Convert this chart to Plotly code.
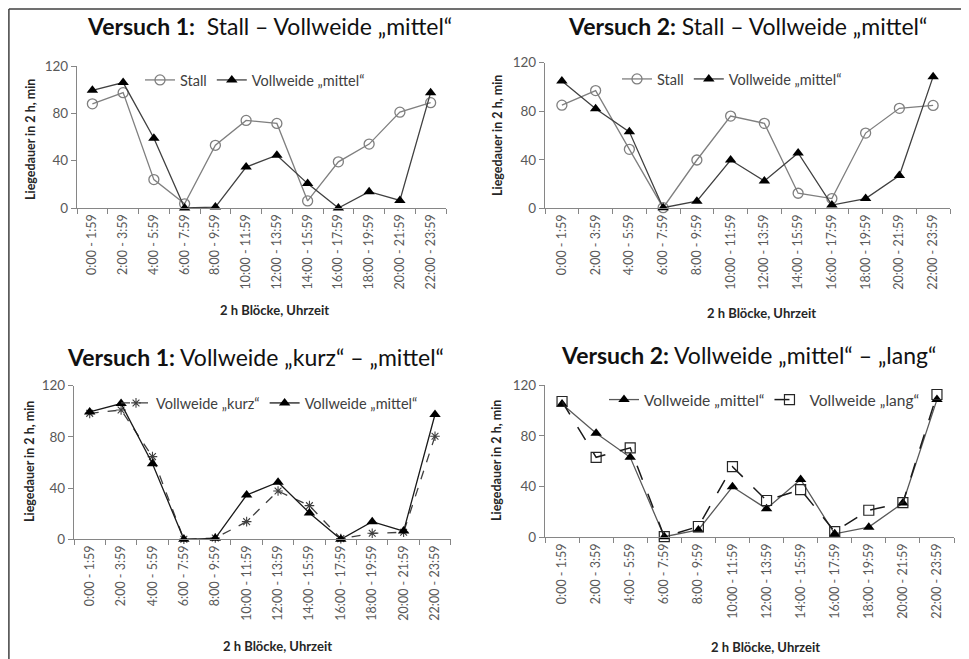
"""
Liegedauer je 2-h-Block: Stall vs. Vollweide
"""
import plotly.graph_objects as go
from plotly.subplots import make_subplots

W, H = 969, 659
OFF = 8  # Seitenrand des Browsers (body margin)

# Kategorien (2-h-Blöcke)
bloecke = ['0:00 - 1:59', '2:00 - 3:59', '4:00 - 5:59', '6:00 - 7:59',
           '8:00 - 9:59', '10:00 - 11:59', '12:00 - 13:59', '14:00 - 15:59',
           '16:00 - 17:59', '18:00 - 19:59', '20:00 - 21:59', '22:00 - 23:59']

# Versuch 1: Stall – Vollweide „mittel“
v1_stall = [88, 97.5, 24, 3.5, 53, 74, 71.5, 6, 39, 54, 81, 89]
v1_mittel = [99.5, 106, 59, 0, 0.8, 34.6, 44.6, 20.6, 0, 13.8, 6.4, 97.5]

# Versuch 2: Stall – Vollweide „mittel“
v2_stall = [85, 97, 48.6, 0.5, 39.8, 76, 70, 12.4, 8, 62, 82.4, 84.8]
v2_mittel = [105, 82, 63, 0.5, 5.8, 39.8, 22.5, 45.6, 2.7, 8, 27, 108.5]

# Versuch 1: Vollweide „kurz“ – „mittel“
v1_kurz = [98.4, 101, 64.6, 0, 1, 13.8, 37.7, 26.3, 0.5, 4.7, 5.5, 80.5]

# Versuch 2: Vollweide „mittel“ – „lang“
v2_lang = [107, 63, 70.5, 0.5, 8.5, 55.7, 29, 37.6, 4.5, 21.3, 27.3, 112.5]

FONT = 'Lato'
TICK_COL = '#595959'
AXIS_COL = '#868686'


def px(x):
    return (x - OFF) / W


def py(y):
    return 1 - (y - OFF) / H


fig = make_subplots(rows=2, cols=2)

# Achsenbereiche (Pixel im Bild)
domains = {
    1: ((77, 446), (66, 208)),
    2: ((545, 950), (62.7, 208.3)),
    3: ((74, 450.7), (385.7, 539.3)),
    4: ((545, 954), (385, 537.3)),
}

circle = dict(symbol='circle-open', size=10, color='#7f7f7f', line=dict(width=1.3))
tri = dict(symbol='triangle-up', size=10, color='#000000')
star = dict(symbol='asterisk-open', size=8, color='#404040', line=dict(width=1.1, color='#404040'))
square = dict(symbol='square-open', size=10, color='#262626', line=dict(width=1.2))

# Panel 1
fig.add_trace(go.Scatter(x=bloecke, y=v1_stall, name='Stall', mode='lines+markers',
                         line=dict(color='#7f7f7f', width=1.3), marker=circle,
                         legend='legend', cliponaxis=False), row=1, col=1)
fig.add_trace(go.Scatter(x=bloecke, y=v1_mittel, name='Vollweide „mittel“', mode='lines+markers',
                         line=dict(color='#404040', width=1.3), marker=tri,
                         legend='legend', cliponaxis=False), row=1, col=1)
# Panel 2
fig.add_trace(go.Scatter(x=bloecke, y=v2_stall, name='Stall', mode='lines+markers',
                         line=dict(color='#7f7f7f', width=1.3), marker=circle,
                         legend='legend2', cliponaxis=False), row=1, col=2)
fig.add_trace(go.Scatter(x=bloecke, y=v2_mittel, name='Vollweide „mittel“', mode='lines+markers',
                         line=dict(color='#404040', width=1.3), marker=tri,
                         legend='legend2', cliponaxis=False), row=1, col=2)
# Panel 3
fig.add_trace(go.Scatter(x=bloecke, y=v1_kurz, name='Vollweide „kurz“', mode='lines+markers',
                         line=dict(color='#404040', width=1.3, dash='dash'), marker=star,
                         legend='legend3', cliponaxis=False), row=2, col=1)
fig.add_trace(go.Scatter(x=bloecke, y=v1_mittel, name='Vollweide „mittel“', mode='lines+markers',
                         line=dict(color='#1a1a1a', width=1.3), marker=tri,
                         legend='legend3', cliponaxis=False), row=2, col=1)
# Panel 4
fig.add_trace(go.Scatter(x=bloecke, y=v2_mittel, name='Vollweide „mittel“', mode='lines+markers',
                         line=dict(color='#595959', width=1.3), marker=tri,
                         legend='legend4', cliponaxis=False), row=2, col=2)
fig.add_trace(go.Scatter(x=bloecke, y=v2_lang, name='Vollweide „lang“', mode='lines+markers',
                         line=dict(color='#1a1a1a', width=1.5, dash='longdash'), marker=square,
                         legend='legend4', cliponaxis=False), row=2, col=2)

for i, ((x0, x1), (y0, y1)) in domains.items():
    sfx = '' if i == 1 else str(i)
    fig.layout['xaxis' + sfx].update(
        domain=[px(x0), px(x1)], type='category', range=[-0.5, 11.5],
        tickangle=-90, tickfont=dict(family=FONT, size=12.5, color=TICK_COL),
        showline=True, linecolor=AXIS_COL, linewidth=1.3, showgrid=False,
        ticks='outside', tickson='boundaries', ticklen=5, tickcolor=AXIS_COL,
        zeroline=False, automargin=False,
    )
    fig.layout['yaxis' + sfx].update(
        domain=[py(y1), py(y0)], range=[0, 120], tickvals=[0, 40, 80, 120],
        tickfont=dict(family=FONT, size=13.5, color=TICK_COL),
        showline=True, linecolor=AXIS_COL, linewidth=1.3, showgrid=False,
        ticks='outside', ticklen=5, tickcolor=AXIS_COL, zeroline=False, automargin=False,
    )

# Legenden
leg_common = dict(orientation='h', bgcolor='rgba(0,0,0,0)', yanchor='middle', xanchor='left',
                  itemwidth=30, tracegroupgap=0)
fig.update_layout(
    legend=dict(x=px(140), y=py(80),
                font=dict(family=FONT, size=14.5, color='#404040'), **leg_common),
    legend2=dict(x=px(617), y=py(79),
                 font=dict(family=FONT, size=14.5, color='#404040'), **leg_common),
    legend3=dict(x=px(116), y=py(403),
                 font=dict(family=FONT, size=14.5, color='#404040'), **leg_common),
    legend4=dict(x=px(604), y=py(400),
                 font=dict(family=FONT, size=15.5, color='#404040'), **leg_common),
)

# Titel
titles = [
    ('<b>Versuch 1:</b>\u00a0 Stall – Vollweide „mittel“', 269, 26),
    ('<b>Versuch 2:</b> Stall – Vollweide „mittel“', 747, 26),
    ('<b>Versuch 1:</b> Vollweide „kurz“ – „mittel“', 256, 357),
    ('<b>Versuch 2:</b> Vollweide „mittel“ – „lang“', 748, 355),
]
for text, x, y in titles:
    fig.add_annotation(text=text, x=px(x), y=py(y), xref='paper', yref='paper',
                       showarrow=False, xanchor='center', yanchor='middle',
                       font=dict(family=FONT, size=23, color='#111111'))

# Achsentitel
x_titles = [(274, 310), (761, 313), (277, 646), (765, 647)]
for x, y in x_titles:
    fig.add_annotation(text='<b>2 h Blöcke, Uhrzeit</b>', x=px(x), y=py(y), xref='paper', yref='paper',
                       showarrow=False, xanchor='center', yanchor='middle',
                       font=dict(family=FONT, size=13, color='#262626'))
y_titles = [(30, 140), (497, 136), (29, 462), (496, 461)]
for x, y in y_titles:
    fig.add_annotation(text='<b>Liegedauer in 2 h, min</b>', x=px(x), y=py(y), xref='paper', yref='paper',
                       showarrow=False, xanchor='center', yanchor='middle', textangle=-90,
                       font=dict(family=FONT, size=12.5, color='#262626'))

# Rahmen (oben und links)
fx, fy = 0.9 / W, 1 - 0.9 / H
fig.add_shape(type='line', xref='paper', yref='paper', x0=fx, x1=1, y0=fy, y1=fy,
              line=dict(color='#404040', width=1.5))
fig.add_shape(type='line', xref='paper', yref='paper', x0=fx, x1=fx, y0=0, y1=fy,
              line=dict(color='#404040', width=1.5))

fig.update_layout(
    width=W, height=H,
    margin=dict(l=0, r=0, t=0, b=0, pad=0, autoexpand=False),
    paper_bgcolor='white', plot_bgcolor='white',
    font=dict(family=FONT),
    showlegend=True,
)

fig.write_html("out.html")
